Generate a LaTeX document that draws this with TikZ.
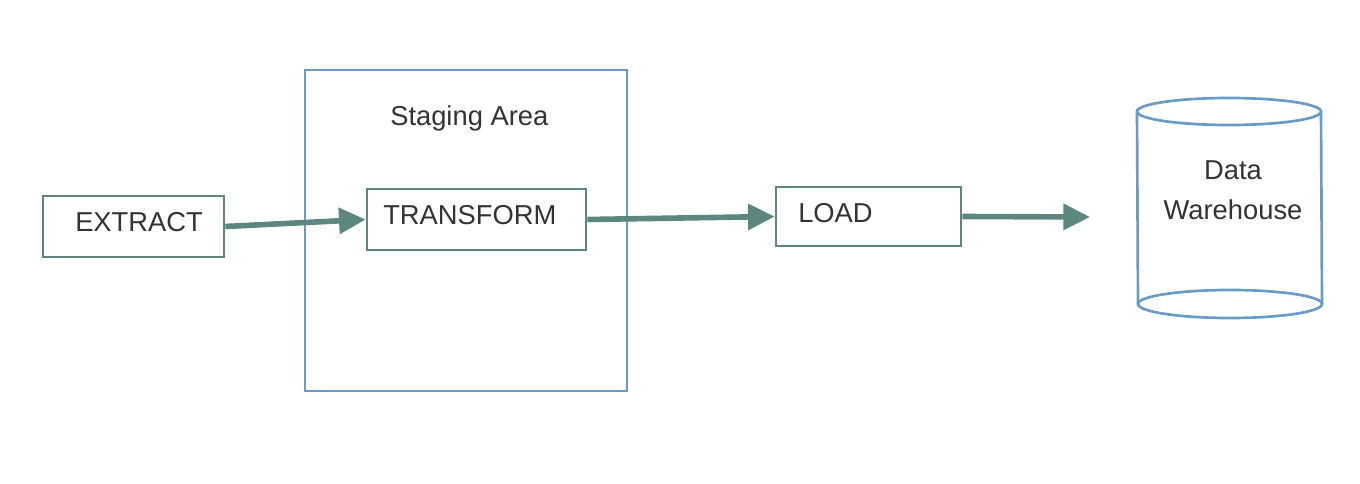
\documentclass[tikz,border=0pt]{standalone}
\usepackage{fontspec}
\setmainfont{Liberation Sans}
\usetikzlibrary{arrows.meta}
\definecolor{teal}{HTML}{5E8680}
\definecolor{paleblue}{HTML}{6A9AC6}
\definecolor{ink}{HTML}{333333}
\tikzset{
  box/.style={draw=teal, line width=2pt, inner sep=0pt},
  area/.style={draw=paleblue, line width=2pt, inner sep=0pt},
  txt/.style={text=ink, font=\fontsize{20.5}{30}\selectfont, inner sep=0pt},
  flow/.style={draw=teal, line width=4.2pt, -{Triangle[length=20pt,width=19pt]}}
}
\begin{document}
\begin{tikzpicture}[x=0.75pt,y=-0.75pt]
\useasboundingbox (0,0) rectangle (1360,484);
% staging area
\node[area, minimum width=322*0.75pt, minimum height=321*0.75pt] (staging) at (466,230.5) {};
\node[txt, anchor=base west] (stagingtxt) at (390,126) {Staging Area};
% boxes
\node[box, minimum width=181*0.75pt, minimum height=61*0.75pt] (extract) at (133.5,226.5) {};
\node[txt, anchor=base west] (extracttxt) at (75,232) {EXTRACT};
\node[box, minimum width=219*0.75pt, minimum height=61*0.75pt] (transform) at (476.5,219.5) {};
\node[txt, anchor=base west] (transformtxt) at (383,225) {TRANSFORM};
\node[box, minimum width=185*0.75pt, minimum height=59*0.75pt] (load) at (868.5,216.5) {};
\node[txt, anchor=base west] (loadtxt) at (798,223) {LOAD};
% cylinder
\draw[paleblue, line width=2pt] (1137,111.5) -- (1138,304);
\draw[paleblue, line width=2pt] (1321,111.5) -- (1322,304);
\draw[paleblue, line width=2pt, fill=white] (1229,111.5) ellipse [x radius=92, y radius=13.5];
\draw[paleblue, line width=2pt] (1230,304) ellipse [x radius=92, y radius=14];
\node[txt, align=center, anchor=center] (dw) at (1233,190) {Data\\Warehouse};
\coordinate (dwin) at (1090,217);
% arrows
\draw[flow] (extract.east) -- (transform.west);
\draw[flow] (transform.east) -- (load.west);
\draw[flow] (load.east) -- (dwin);
\end{tikzpicture}
\end{document}
